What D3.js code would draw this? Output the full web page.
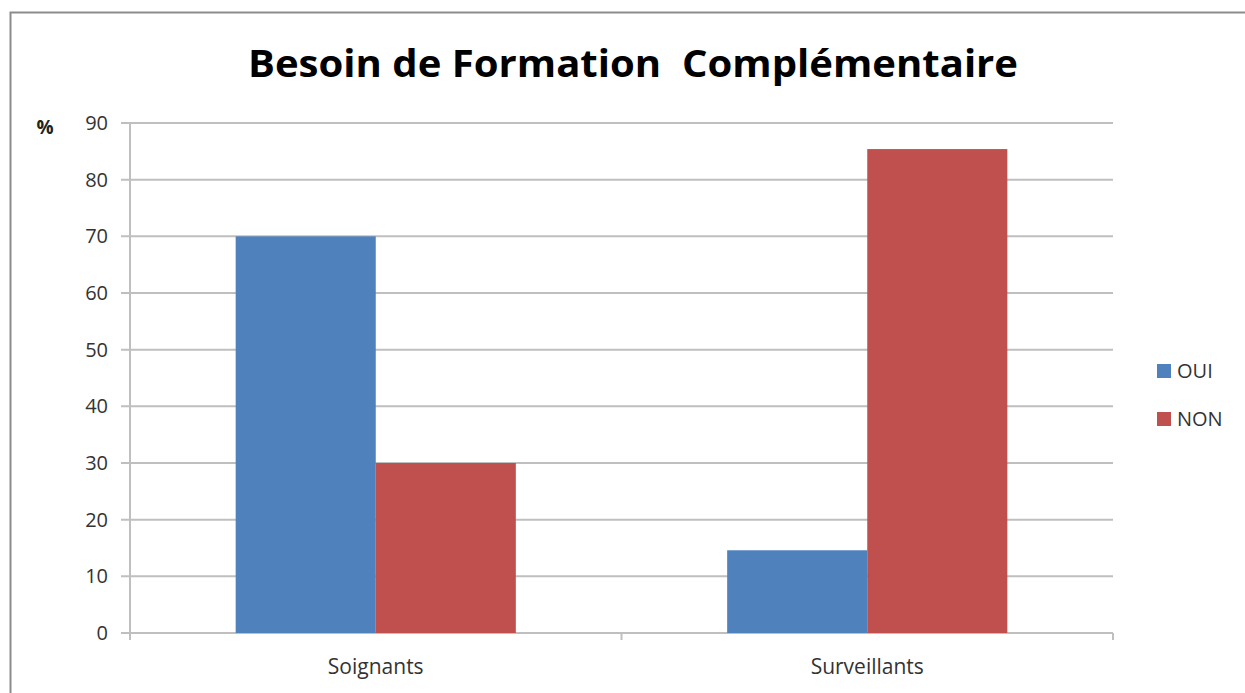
<!DOCTYPE html>
<html>
<head>
<meta charset="utf-8">
<script src="https://cdn.jsdelivr.net/npm/d3@7"></script>
<style>
  body { margin: 0; background: #fff; }
  svg { display: block; font-family: "Open Sans", "Liberation Sans", sans-serif; }
</style>
</head>
<body>
<div id="chart"></div>
<script>
var categories = ["Soignants", "Surveillants"];
var seriesNames = ["OUI", "NON"];
var oui = [70, 14.6];
var non = [30, 85.4];
var yTicks = [0, 10, 20, 30, 40, 50, 60, 70, 80, 90];
var colors = ["#4f81bd", "#c0504d"];

var width = 1245, height = 693;
var margin = {left: 130, right: 132, top: 123, bottom: 60};

var svg = d3.select("#chart").append("svg")
    .attr("width", width)
    .attr("height", height);

// outer frame
svg.append("rect")
    .attr("x", 10.5).attr("y", 12.5)
    .attr("width", 1300).attr("height", 800)
    .attr("fill", "none")
    .attr("stroke", "#8c8c8c")
    .attr("stroke-width", 2);

var x0 = d3.scaleBand()
    .domain(categories)
    .range([margin.left, width - margin.right])
    .paddingInner(0.43)
    .paddingOuter(0.215);

var x1 = d3.scaleBand()
    .domain(seriesNames)
    .range([0, x0.bandwidth()]);

var y = d3.scaleLinear()
    .domain([0, 90])
    .range([height - margin.bottom, margin.top]);

// gridlines
svg.append("g")
    .selectAll("line")
    .data(yTicks)
    .enter().append("line")
    .attr("x1", margin.left - 9)
    .attr("x2", width - margin.right)
    .attr("y1", function (d) { return y(d); })
    .attr("y2", function (d) { return y(d); })
    .attr("stroke", "#bfbfbf")
    .attr("stroke-width", 2);

// y axis line
svg.append("line")
    .attr("x1", margin.left).attr("x2", margin.left)
    .attr("y1", y(90)).attr("y2", y(0) + 7)
    .attr("stroke", "#bfbfbf")
    .attr("stroke-width", 2);

// x category tick marks
var xr = x0.range();
[xr[0], (xr[0] + xr[1]) / 2, xr[1]].forEach(function (t) {
    svg.append("line")
        .attr("x1", t).attr("x2", t)
        .attr("y1", y(0)).attr("y2", y(0) + 7)
        .attr("stroke", "#bfbfbf")
        .attr("stroke-width", 2);
});

// bars
var data = categories.map(function (c, i) {
    return {cat: c, values: [{k: "OUI", v: oui[i]}, {k: "NON", v: non[i]}]};
});

var groups = svg.append("g")
    .selectAll("g")
    .data(data)
    .enter().append("g")
    .attr("transform", function (d) { return "translate(" + x0(d.cat) + ",0)"; });

groups.selectAll("rect")
    .data(function (d) { return d.values; })
    .enter().append("rect")
    .attr("x", function (d) { return x1(d.k); })
    .attr("y", function (d) { return y(d.v); })
    .attr("width", x1.bandwidth())
    .attr("height", function (d) { return y(0) - y(d.v); })
    .attr("fill", function (d, i) { return colors[i]; });

// y tick labels
svg.append("g")
    .selectAll("text")
    .data(yTicks)
    .enter().append("text")
    .attr("x", 108)
    .attr("y", function (d) { return y(d); })
    .attr("dy", "0.35em")
    .attr("text-anchor", "end")
    .attr("font-size", 20)
    .attr("fill", "#333")
    .text(function (d) { return d; });

svg.append("text")
    .attr("x", 45).attr("y", y(90) + 4)
    .attr("dy", "0.35em")
    .attr("text-anchor", "middle")
    .attr("font-size", 19)
    .attr("font-weight", "bold")
    .attr("fill", "#222")
    .text("%");

// category labels
svg.append("g")
    .selectAll("text")
    .data(categories)
    .enter().append("text")
    .attr("x", function (d) { return x0(d) + x0.bandwidth() / 2; })
    .attr("y", 667)
    .attr("dy", "0.35em")
    .attr("text-anchor", "middle")
    .attr("font-size", 21)
    .attr("fill", "#333")
    .text(function (d) { return d; });

// title (double space kept)
svg.append("text")
    .attr("x", 633).attr("y", 77)
    .attr("text-anchor", "middle")
    .attr("font-size", 37)
    .attr("font-weight", "bold")
    .attr("fill", "#000")
    .style("white-space", "pre")
    .attr("textLength", 770)
    .attr("lengthAdjust", "spacingAndGlyphs")
    .text("Besoin de Formation  Complémentaire");

// legend
var legend = svg.append("g")
    .selectAll("g")
    .data(seriesNames)
    .enter().append("g")
    .attr("transform", function (d, i) { return "translate(1157," + (364 + i * 48) + ")"; });

legend.append("rect")
    .attr("width", 14).attr("height", 14)
    .attr("fill", function (d, i) { return colors[i]; });

legend.append("text")
    .attr("x", 20).attr("y", 7)
    .attr("dy", "0.35em")
    .attr("font-size", 20)
    .attr("fill", "#333")
    .text(function (d) { return d; });
</script>
</body>
</html>
